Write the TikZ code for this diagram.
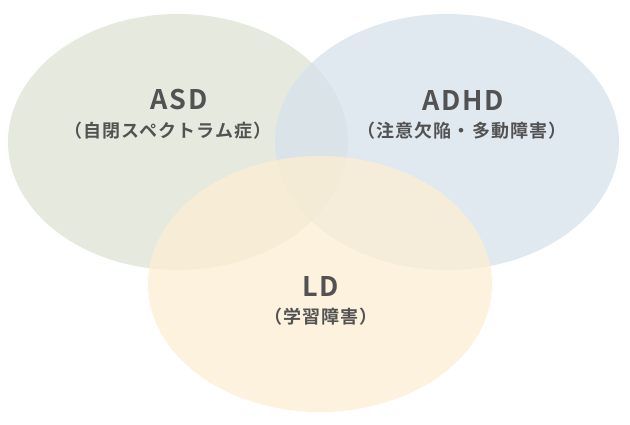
\documentclass[tikz,border=0pt]{standalone}
\usepackage{fontspec}
\newfontfamily\cjk{Noto Sans CJK JP}[BoldFont={* Bold},LetterSpace=6]
\begin{document}
\begin{tikzpicture}[x=1pt,y=-1pt,
  venn/.style={fill opacity=0.75,draw=none},
  ttl/.style={font=\cjk\bfseries\fontsize{27}{32}\selectfont,text=black!68},
  sub/.style={font=\cjk\bfseries\fontsize{18}{21}\selectfont,text=black!68}]
\useasboundingbox (0,0) rectangle (630,425);
\fill[white] (0,0) rectangle (630,425);
\fill[venn,fill={rgb,255:red,222;green,227;blue,212}] (178,142) ellipse [x radius=170,y radius=128];
\fill[venn,fill={rgb,255:red,214;green,225;blue,236}] (447,142) ellipse [x radius=172,y radius=128];
\fill[venn,fill={rgb,255:red,253;green,238;blue,210}] (320,284) ellipse [x radius=172,y radius=128];
\node[ttl] (asd) at (179,100) {ASD};
\node[sub] (asds) at (168,131) {（自閉スペクトラム症）};
\node[ttl] (adhd) at (463,100) {ADHD};
\node[sub] (adhds) at (462,131) {（注意欠陥・多動障害）};
\node[ttl] (ld) at (321,286) {LD};
\node[sub] (lds) at (321,317) {（学習障害）};
\end{tikzpicture}
\end{document}
